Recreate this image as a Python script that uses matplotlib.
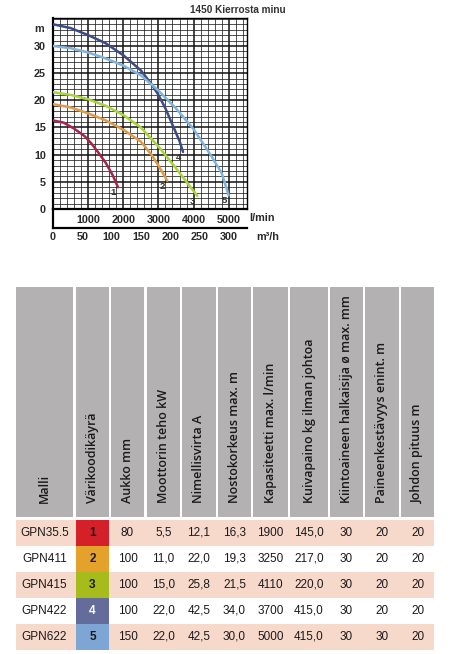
import matplotlib
matplotlib.use('Agg')
import matplotlib.pyplot as plt
from matplotlib.patches import Rectangle
from matplotlib.ticker import MultipleLocator
import numpy as np

# pump curves, flow in l/min, head in m
curve1_q = [0, 300, 600, 900, 1100, 1300, 1500, 1700, 1850]
curve1_h = [16.3, 15.9, 14.8, 13.4, 12.0, 10.3, 8.5, 6.2, 4.0]
curve2_q = [0, 500, 1000, 1500, 2000, 2500, 2800, 3000, 3250]
curve2_h = [19.3, 18.7, 17.6, 16.3, 14.6, 12.4, 10.0, 8.0, 5.2]
curve3_q = [0, 500, 1000, 1500, 2000, 2500, 3000, 3500, 4000, 4110]
curve3_h = [21.5, 21.0, 20.2, 19.0, 17.3, 15.0, 11.5, 7.5, 3.3, 2.4]
curve4_q = [0, 500, 1000, 1500, 2000, 2500, 2800, 3000, 3200, 3400, 3600, 3700]
curve4_h = [34.0, 33.3, 32.0, 30.5, 28.3, 25.5, 23.0, 21.0, 18.5, 15.5, 12.5, 10.5]
curve5_q = [0, 500, 1000, 1500, 2000, 2500, 3000, 3500, 4000, 4500, 4800, 5000]
curve5_h = [30.0, 29.6, 28.8, 27.7, 26.4, 24.6, 21.8, 18.5, 14.7, 9.8, 6.6, 2.5]
curve_colors = ['#a8244a', '#e09a48', '#a8d43a', '#3c4a86', '#80b4dc']

lmin_ticks = [1000, 2000, 3000, 4000, 5000]
m3h_ticks = [0, 50, 100, 150, 200, 250, 300]
head_ticks = [0, 5, 10, 15, 20, 25, 30]

# table
headers = ['Malli', 'Värikoodikäyrä', 'Aukko mm', 'Moottorin teho kW', 'Nimellisvirta A',
           'Nostokorkeus max. m', 'Kapasiteetti max. l/min', 'Kuivapaino kg ilman johtoa',
           'Kiintoaineen halkaisija ø max. mm', 'Paineenkestävyys enint. m', 'Johdon pituus m']
models = ['GPN35.5', 'GPN411', 'GPN415', 'GPN422', 'GPN622']
codes = ['1', '2', '3', '4', '5']
code_colors = ['#d42028', '#e4a22c', '#a6bc1c', '#646c9c', '#7ea6d4']
aukko = ['80', '100', '100', '100', '150']
teho = ['5,5', '11,0', '15,0', '22,0', '22,0']
virta = ['12,1', '22,0', '25,8', '42,5', '42,5']
nosto = ['16,3', '19,3', '21,5', '34,0', '30,0']
kapasiteetti = ['1900', '3250', '4110', '3700', '5000']
paino = ['145,0', '217,0', '220,0', '415,0', '415,0']
kiinto = ['30', '30', '30', '30', '30']
paine = ['20', '20', '20', '20', '30']
johto = ['20', '20', '20', '20', '20']

W, H = 463, 654
fig = plt.figure(figsize=(W / 100, H / 100), dpi=100)
plt.rcParams['font.family'] = ['Liberation Sans', 'DejaVu Sans']


def box(l, t, r, b):
    return [l / W, 1 - b / H, (r - l) / W, (b - t) / H]


lab = dict(fontsize=7.8, fontweight='bold', color='#2a2a2a')

# ---- chart ----
xmax = 5520
ax = fig.add_axes(box(53, 18, 247, 209))
ax.set_xlim(0, xmax)
ax.set_ylim(0, 35.15)
ax.xaxis.set_minor_locator(MultipleLocator(200))
ax.yaxis.set_minor_locator(MultipleLocator(1))
ax.set_xticks(lmin_ticks)
ax.set_yticks(head_ticks)
ax.set_xticklabels([str(t) for t in lmin_ticks], **lab)
ax.set_yticklabels([str(t) for t in head_ticks], **lab)
ax.grid(which='minor', color='#222222', lw=0.55)
ax.grid(which='major', color='#111111', lw=1.1)
ax.tick_params(which='both', length=0)
ax.tick_params(axis='x', pad=4)
ax.tick_params(axis='y', pad=5)
ax.set_axisbelow(True)
for s in ['top', 'right']:
    ax.spines[s].set_linewidth(1.0)
ax.spines['left'].set_linewidth(1.6)
ax.spines['bottom'].set_linewidth(1.6)

curves = [(curve1_q, curve1_h), (curve2_q, curve2_h), (curve3_q, curve3_h),
          (curve4_q, curve4_h), (curve5_q, curve5_h)]
for i, (q, h) in enumerate(curves):
    ax.plot(q, h, color=curve_colors[i], lw=1.8, solid_capstyle='round', zorder=3)
    ax.text(q[-1] - 130, h[-1] - 1.0, str(i + 1), fontsize=6.8, fontweight='bold',
            color='#333333', ha='center', va='center', zorder=4)

ax.text(-0.045, 0.945, 'm', transform=ax.transAxes, ha='right', va='center', **lab)
fig.text(249 / W, 1 - 218 / H, 'l/min', va='center', **lab)
fig.text(190 / W, 1 - 10 / H, '1450 Kierrosta minu', fontsize=7.2, fontweight='bold',
         color='#333333', va='center')

ax2 = fig.add_axes(box(53, 209, 247, 228))
ax2.set_xlim(0, xmax * 60 / 1000)
ax2.set_ylim(0, 1)
ax2.set_xticks(m3h_ticks)
ax2.set_xticklabels([str(t) for t in m3h_ticks], **lab)
ax2.set_yticks([])
ax2.patch.set_alpha(0)
ax2.tick_params(length=0, pad=3)
for s in ['top', 'right']:
    ax2.spines[s].set_visible(False)
ax2.spines['left'].set_linewidth(1.6)
ax2.spines['bottom'].set_linewidth(1.6)
fig.text(256 / W, 1 - 237 / H, 'm³/h', va='center', **lab)

# ---- table ----
tax = fig.add_axes([0, 0, 1, 1])
tax.set_xlim(0, W)
tax.set_ylim(H, 0)
tax.axis('off')

col_l = [16, 76, 111, 147, 182, 218, 253, 290, 330, 365, 401]
col_r = [73, 109, 144, 180, 216, 251, 288, 328, 363, 399, 434]
head_top, head_bot = 287, 517
row_top = 520
row_h = 25.9

for l, r, txt in zip(col_l, col_r, headers):
    tax.add_patch(Rectangle((l, head_top), r - l, head_bot - head_top, color='#b3b1b2', lw=0))
    tax.text((l + r) / 2, 503, txt, rotation=90, ha='center', va='bottom',
             fontsize=9.0, fontweight='semibold', color='#1a1a1a',
             family=['Open Sans', 'DejaVu Sans'])

columns = [models, codes, aukko, teho, virta, nosto, kapasiteetti, paino, kiinto, paine, johto]
for i in range(len(models)):
    y0 = row_top + i * row_h
    if i % 2 == 0:
        tax.add_patch(Rectangle((col_l[0], y0), col_r[-1] - col_l[0], row_h, color='#f7d9cc', lw=0))
    tax.add_patch(Rectangle((col_l[1], y0), col_r[1] - col_l[1], row_h, color=code_colors[i], lw=0))
    for j, col in enumerate(columns):
        color = '#1a1a1a'
        weight = 'normal'
        if j == 1:
            weight = 'bold'
            color = 'white' if i == 3 else '#1a1a1a'
        tax.text((col_l[j] + col_r[j]) / 2, y0 + row_h / 2, col[i], ha='center', va='center',
                 fontsize=8.5, color=color, fontweight=weight)

fig.savefig('out.png', dpi=100)
